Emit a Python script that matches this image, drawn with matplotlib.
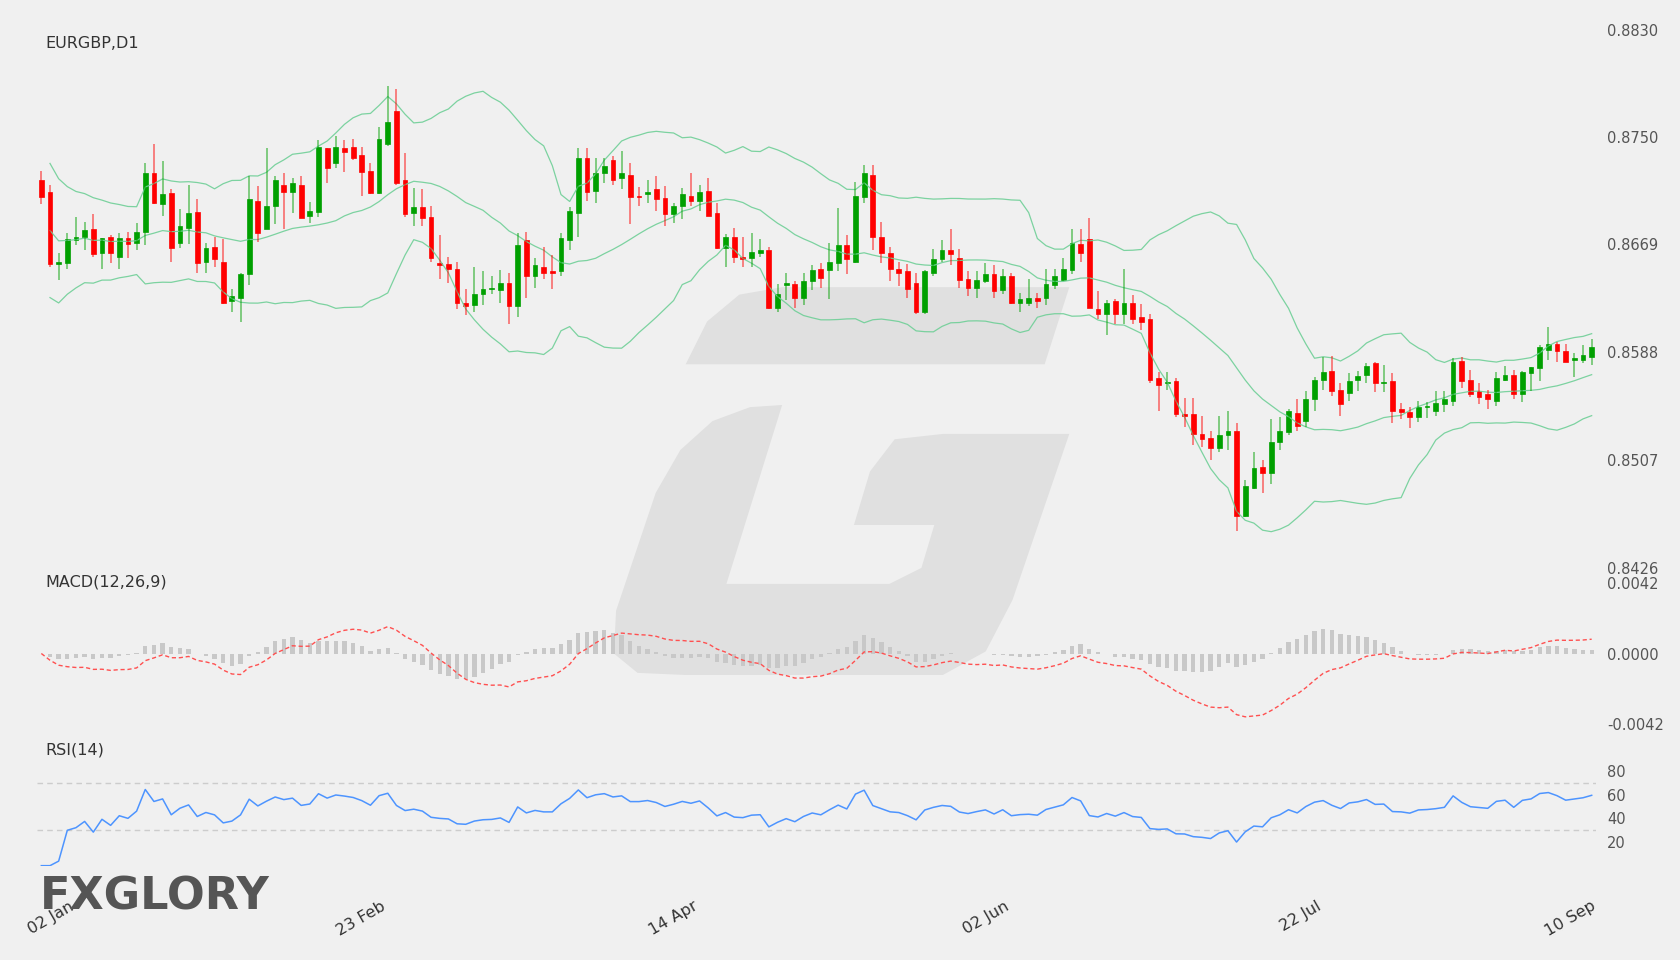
import numpy as np
import pandas as pd
import matplotlib
matplotlib.use("Agg")
import matplotlib.pyplot as plt
from matplotlib.patches import Polygon
from matplotlib.transforms import blended_transform_factory

# OHLC readings (pips, on the reading scale; calibrated below)
opens = [8708,8698,8640,8641,8659,8662,8668,8649,8662,8646,8661,8657,8666,8713,8688,8697,8657,8669,8682,8642,
         8654,8642,8610,8613,8632,8691,8668,8687,8704,8698,8704,8679,8682,8733,8721,8733,8734,8728,8715,8697,
         8737,8763,8708,8681,8686,8678,8641,8640,8636,8609,8607,8616,8620,8619,8625,8606,8659,8630,8638,8634,
         8634,8659,8681,8725,8699,8713,8724,8709,8712,8695,8696,8700,8693,8680,8687,8695,8691,8699,8681,8653,
         8662,8646,8645,8649,8651,8605,8623,8624,8613,8626,8636,8635,8641,8655,8642,8694,8712,8662,8649,8636,
         8634,8625,8601,8633,8644,8651,8645,8628,8621,8626,8632,8619,8630,8609,8609,8613,8613,8623,8627,8635,
         8656,8660,8604,8600,8610,8600,8609,8597,8596,8548,8544,8546,8519,8519,8503,8500,8492,8502,8506,8437,
         8460,8477,8472,8497,8505,8520,8514,8531,8547,8554,8539,8536,8547,8551,8560,8544,8546,8523,8521,8517,
         8525,8522,8527,8530,8562,8547,8538,8535,8530,8547,8551,8535,8552,8556,8571,8576,8570,8563,8563,8565]
closes = [8694,8640,8642,8660,8662,8667,8648,8661,8649,8661,8656,8666,8713,8689,8696,8653,8671,8681,8641,8653,
          8644,8609,8614,8632,8692,8665,8687,8708,8698,8705,8677,8683,8734,8717,8734,8730,8725,8714,8697,8741,
          8754,8705,8680,8686,8677,8645,8639,8636,8609,8606,8616,8620,8621,8625,8606,8655,8630,8639,8633,8633,
          8661,8683,8725,8698,8713,8719,8708,8713,8694,8694,8698,8692,8680,8687,8696,8691,8698,8679,8653,8662,
          8646,8644,8650,8651,8605,8616,8625,8613,8626,8635,8629,8642,8655,8644,8695,8713,8662,8649,8636,8633,
          8620,8601,8634,8644,8651,8648,8627,8621,8627,8632,8618,8630,8609,8612,8613,8610,8624,8630,8636,8657,
          8649,8605,8600,8609,8600,8609,8596,8593,8547,8543,8544,8519,8518,8503,8499,8492,8502,8506,8437,8461,
          8476,8472,8497,8506,8522,8510,8531,8547,8553,8538,8527,8546,8550,8558,8544,8545,8522,8521,8517,8525,
          8526,8528,8531,8561,8546,8535,8533,8531,8548,8551,8535,8553,8557,8573,8576,8570,8561,8564,8567,8573]
highs = [8715,8704,8649,8665,8678,8674,8680,8661,8663,8665,8666,8673,8721,8737,8723,8700,8684,8704,8692,8657,
         8662,8660,8620,8633,8711,8703,8733,8711,8713,8709,8711,8690,8740,8733,8743,8740,8741,8734,8721,8750,
         8783,8781,8729,8701,8700,8687,8663,8646,8642,8620,8638,8634,8630,8635,8633,8665,8666,8645,8654,8647,
         8665,8686,8733,8733,8725,8725,8727,8731,8721,8702,8708,8711,8703,8689,8701,8713,8704,8709,8689,8664,
         8669,8662,8665,8660,8654,8624,8633,8626,8633,8639,8641,8657,8685,8663,8706,8720,8720,8674,8654,8642,
         8640,8633,8635,8652,8659,8668,8652,8634,8634,8641,8639,8636,8633,8617,8628,8617,8636,8636,8645,8668,
         8668,8677,8618,8611,8612,8636,8615,8608,8600,8553,8553,8548,8532,8532,8518,8506,8518,8522,8512,8466,
         8489,8482,8515,8517,8523,8531,8538,8549,8565,8566,8544,8552,8554,8560,8561,8559,8552,8528,8525,8530,
         8529,8538,8538,8564,8565,8555,8544,8539,8553,8558,8555,8554,8557,8575,8589,8577,8576,8568,8575,8580]
lows = [8688,8638,8627,8636,8655,8651,8646,8636,8641,8636,8645,8651,8655,8688,8679,8642,8653,8656,8633,8633,
        8638,8608,8601,8593,8623,8658,8668,8672,8668,8681,8677,8673,8678,8705,8717,8714,8724,8695,8696,8696,
        8735,8704,8678,8671,8671,8642,8628,8625,8604,8599,8601,8607,8616,8609,8592,8597,8613,8621,8628,8620,
        8630,8651,8662,8691,8689,8705,8704,8700,8672,8687,8689,8683,8671,8673,8676,8687,8683,8679,8652,8638,
        8641,8638,8638,8646,8604,8601,8611,8605,8607,8619,8621,8612,8634,8632,8641,8689,8651,8641,8626,8622,
        8613,8600,8600,8630,8642,8639,8621,8614,8613,8625,8613,8616,8608,8601,8606,8605,8607,8620,8626,8632,
        8642,8605,8596,8583,8592,8592,8592,8587,8544,8522,8539,8517,8509,8494,8493,8482,8489,8490,8425,8436,
        8459,8456,8463,8490,8502,8506,8509,8522,8539,8534,8518,8530,8538,8544,8537,8537,8512,8515,8508,8513,
        8516,8518,8521,8526,8540,8533,8527,8523,8526,8546,8531,8529,8538,8546,8563,8561,8561,8549,8560,8559]
date_labels = ["02 Jan", "23 Feb", "14 Apr", "02 Jun", "22 Jul", "10 Sep"]
date_index = [0, 36, 72, 108, 144, 179]
price_ticks = [0.8830, 0.8750, 0.8669, 0.8588, 0.8507, 0.8426]

# calibration of the reading scale to true prices
REF, K = 8852.5, 0.9329
def cal(a):
    return (REF - (REF - np.array(a, dtype=float)) * K) / 1e4

o, c, h, l = cal(opens), cal(closes), cal(highs), cal(lows)
n = len(c)
x = np.arange(n)
s = pd.Series(c)

mid = s.rolling(20, min_periods=2).mean()
sd = s.rolling(20, min_periods=2).std(ddof=0)
up, lo = mid + 2 * sd, mid - 2 * sd

ema12 = s.ewm(span=12, adjust=False).mean()
ema26 = s.ewm(span=26, adjust=False).mean()
macd = ema12 - ema26
signal = macd.rolling(9, min_periods=1).mean()
hist = macd - signal

d = s.diff()
gain = d.clip(lower=0).ewm(alpha=1/14, adjust=True).mean()
loss = (-d.clip(upper=0)).ewm(alpha=1/14, adjust=True).mean()
rsi = (100 - 100 / (1 + gain / loss)).bfill()

W, H = 1680, 960
bg = "#f0f0f0"
fig = plt.figure(figsize=(16.8, 9.6), dpi=100, facecolor=bg)
S = 1680 / 1568

def fx(px): return px / W
def fy(py): return 1 - py / H

# watermark (behind everything)
wm = "#e0e0e0"
def poly(pts):
    fig.patches.append(Polygon([(fx(a * S), fy(b * S)) for a, b in pts], closed=True,
                               transform=fig.transFigure, facecolor=wm, edgecolor="none", zorder=-5))
poly([(640, 340), (660, 300), (690, 275), (730, 268), (998, 268), (975, 340)])
poly([(730, 378), (700, 380), (665, 393), (635, 420), (612, 460), (575, 570), (573, 610), (595, 628),
      (640, 630), (880, 630), (920, 608), (945, 560), (998, 405), (880, 405), (835, 410), (812, 440),
      (797, 490), (872, 490), (860, 530), (830, 545), (678, 545)])

left, right = 37, 1596
def axes(top, bottom):
    ax = fig.add_axes([fx(left), fy(bottom), fx(right - left), (bottom - top) / H])
    ax.patch.set_alpha(0)
    ax.set_zorder(1)
    for sp in ax.spines.values():
        sp.set_visible(False)
    ax.set_xlim(-0.5, n - 0.5)
    ax.set_xticks([])
    ax.yaxis.tick_right()
    ax.tick_params(axis="y", length=0, pad=8, labelsize=10.5, labelcolor="#555555")
    return ax

# price panel
ax = axes(30, 568)
ax.set_ylim(0.8426, 0.8830)
ax.set_yticks(price_ticks)
ax.set_yticklabels([f"{v:.4f}" for v in price_ticks])
band = "#6fcf97"
for b in (up, mid, lo):
    ax.plot(x, b, color=band, lw=0.9, alpha=0.9)
for i in range(n):
    col = "#00a000" if c[i] >= o[i] else "#ff0000"
    ax.vlines(x[i], l[i], h[i], color=col, lw=1.2, alpha=0.55)
    bot, ht = min(o[i], c[i]), max(abs(c[i] - o[i]), 0.00006)
    ax.bar(x[i], ht, bottom=bot, width=0.55, color=col, edgecolor=col, lw=0.5)
fig.text(fx(45), fy(43), "EURGBP,D1", fontsize=11.5, color="#333333", va="center")

# MACD panel
axm = axes(583, 724)
axm.set_ylim(-0.0042, 0.0042)
axm.set_yticks([0.0042, 0.0, -0.0042])
axm.set_yticklabels(["0.0042", "0.0000", "-0.0042"])
axm.bar(x, hist, width=0.5, color="#c8c8c8")
axm.plot(x, macd, color="#ff5050", lw=1, ls=(0, (3, 2)))
fig.text(fx(45), fy(582), "MACD(12,26,9)", fontsize=11.5, color="#333333", va="center")

# RSI panel: 80 at y 771, 20 at 842
ppu = (842 - 771) / 60
axr = axes(771 - 20 * ppu, 842 + 20 * ppu)
axr.set_ylim(0, 100)
axr.set_yticks([80, 60, 40, 20])
for lev in (70, 30):
    axr.axhline(lev, color="#cccccc", lw=1, ls=(0, (4, 3)))
axr.plot(x, rsi, color="#4d94ff", lw=1.1)
fig.text(fx(45), fy(750), "RSI(14)", fontsize=11.5, color="#333333", va="center")

# date labels
tr = blended_transform_factory(axr.transData, fig.transFigure)
for k, (lab, idx) in enumerate(zip(date_labels, date_index)):
    xpos = min(idx + 3.6, n - 1 + 0.3)
    axr.text(xpos, fy(905), lab, transform=tr, rotation=30, ha="right", va="center",
             fontsize=11.5, color="#333333", rotation_mode="anchor")

# logo
fig.text(fx(40), fy(910), "FXGLORY", fontsize=32, fontweight="bold", color="#555555",
         va="baseline", ha="left")

fig.savefig("out.png", dpi=100, facecolor=bg)
